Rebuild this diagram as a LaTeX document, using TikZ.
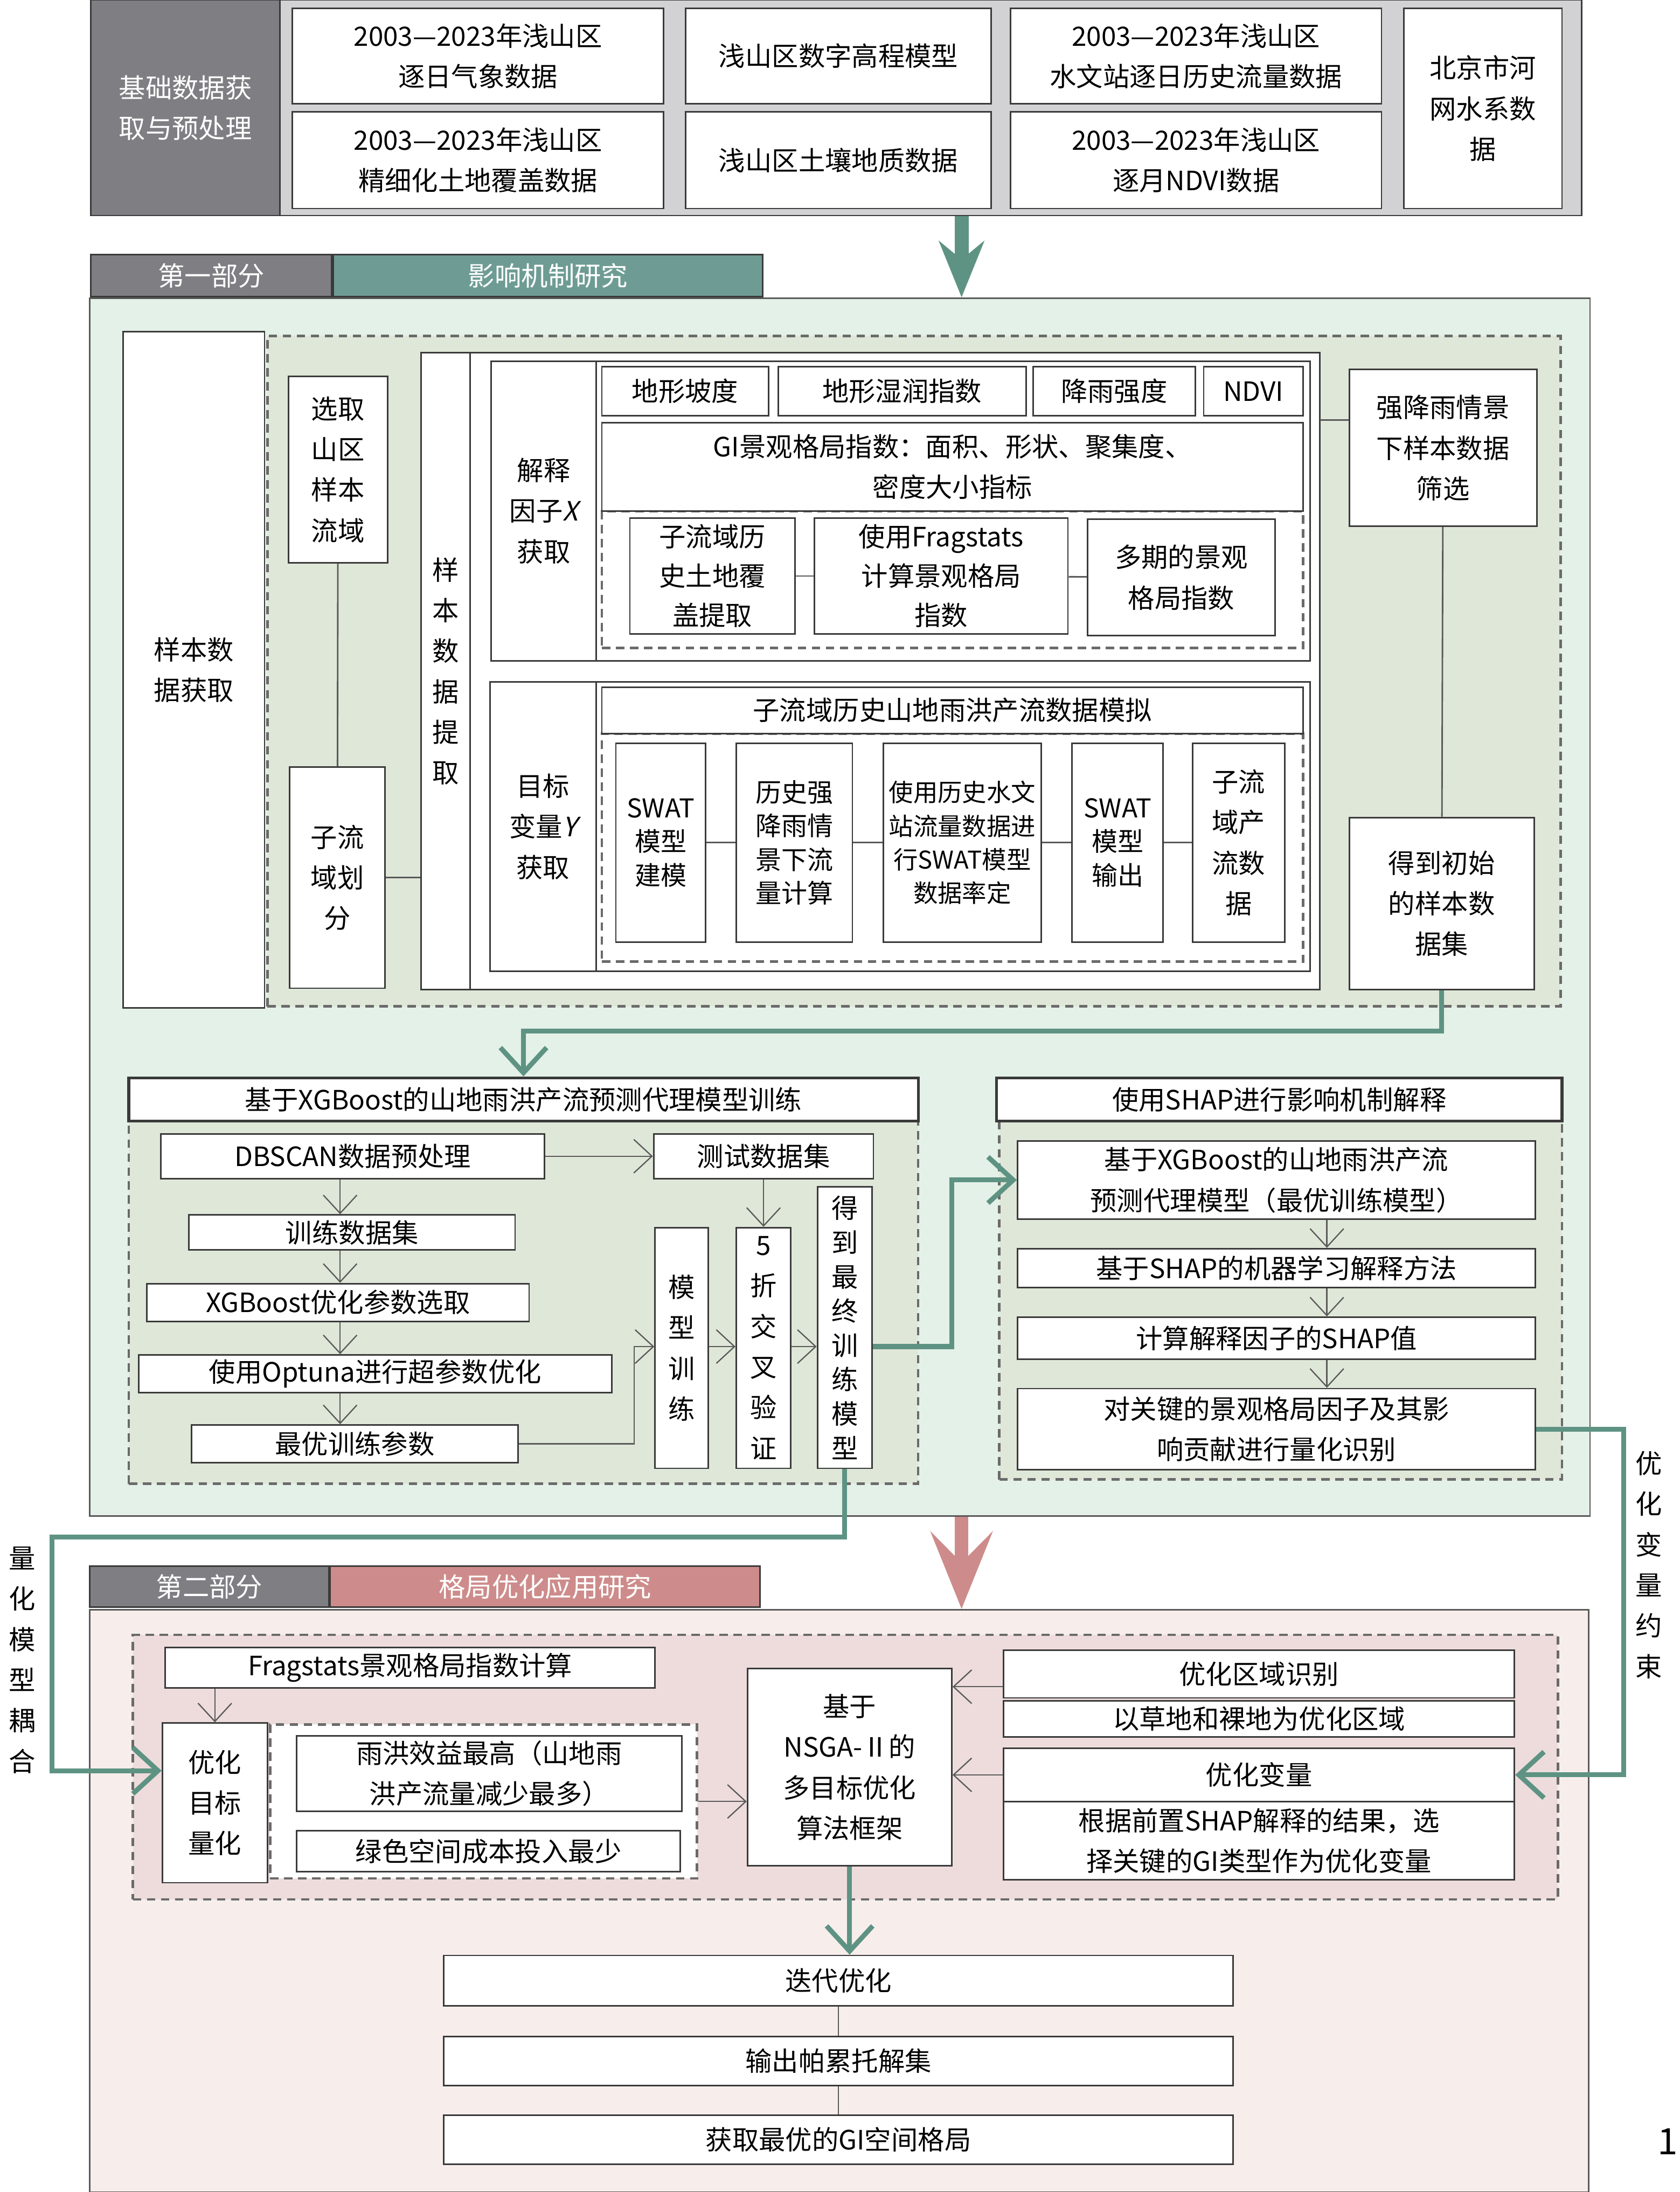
\documentclass[tikz,border=0pt]{standalone}
\usepackage{fontspec}
\setmainfont{Noto Sans CJK SC}
\newfontfamily\slfont[FakeSlant=0.22]{Noto Sans CJK SC}
\usetikzlibrary{arrows.meta}
\definecolor{darkg}{HTML}{7F7F83}
\definecolor{lightg}{HTML}{D2D2D4}
\definecolor{tealc}{HTML}{6E9C94}
\definecolor{greenpanel}{HTML}{E4F1E8}
\definecolor{greendash}{HTML}{DFE7D8}
\definecolor{garrowc}{HTML}{5E9383}
\definecolor{pinkc}{HTML}{CD8C8B}
\definecolor{pinkpanel}{HTML}{F7EEEC}
\definecolor{pinkdash}{HTML}{EEDCDC}
\definecolor{bordc}{HTML}{3A3A3A}
\definecolor{connc}{HTML}{5A5A5A}
\definecolor{dashc}{HTML}{6A6A6A}
\newcommand\myfs{\fontsize{19pt}{29pt}\selectfont}
\newcommand\bx[7][]{%
  \pgfmathsetmacro\bxcx{(#3+#5)/2}%
  \pgfmathsetmacro\bxcy{(#4+#6)/2}%
  \pgfmathsetmacro\bxw{#5-#3}%
  \pgfmathsetmacro\bxh{#6-#4}%
  \node[box,minimum width=\bxw pt,minimum height=\bxh pt,#1] (#2) at (\bxcx,\bxcy) {#7};}
\begin{document}
\begin{tikzpicture}[x=1pt,y=-1pt,
  box/.style={draw=bordc,line width=1.1pt,fill=white,inner sep=0pt,align=center,font=\myfs,text=black},
  titlebox/.style={line width=2pt},
  dashbox/.style={draw=dashc,line width=1.8pt,dash pattern=on 6pt off 4pt},
  tight/.style={font=\fontsize{18.5pt}{24pt}\selectfont},
  conn/.style={draw=connc,line width=1.1pt},
  arr/.style={draw=connc,line width=0.9pt,-{Straight Barb[length=13pt,width=24pt,line width=0.9pt]}},
  garrow/.style={draw=garrowc,line width=3.5pt,-{Straight Barb[length=18pt,width=33pt,line width=3.5pt]}},
  bigarrowA/.style={line width=10pt,-{Stealth[length=40pt,width=32pt,inset=13pt]}},
  bigarrowB/.style={line width=9.6pt,-{Stealth[length=55pt,width=44pt,inset=22pt]}},
  vlab/.style={inner sep=0pt,align=center,font=\myfs,text=black}]
\useasboundingbox (0,0) rectangle (1200,1566);
\fill[white] (0,0) rectangle (1200,1566);

% ---------- top data section
\bx[fill=lightg]{topsec}{65}{0}{1130}{154}{}
\bx[fill=darkg,text=white]{hdr}{65}{0}{200}{154}{基础数据获\\取与预处理}
\bx{d1}{209}{6}{474}{74}{2003—2023年浅山区\\逐日气象数据}
\bx{d2}{490}{6}{708}{74}{浅山区数字高程模型}
\bx{d3}{722}{6}{987}{74}{2003—2023年浅山区\\水文站逐日历史流量数据}
\bx{d4}{209}{80}{474}{149}{2003—2023年浅山区\\精细化土地覆盖数据}
\bx{d5}{490}{80}{708}{149}{浅山区土壤地质数据}
\bx{d6}{722}{80}{987}{149}{2003—2023年浅山区\\逐月NDVI数据}
\bx{d7}{1003}{6}{1116}{149}{北京市河\\网水系数\\据}

% ---------- part one
\bx[fill=greenpanel,draw=connc]{p1}{64}{213}{1136}{1083}{}
\bx[fill=darkg,text=white]{h1a}{65}{182}{237}{212}{第一部分}
\bx[fill=tealc,text=white]{h1b}{238}{182}{545}{212}{影响机制研究}
\coordinate (arrx) at (687,0);
\draw[bigarrowA,draw=garrowc,fill=garrowc] (topsec.south -| arrx) -- (p1.north -| arrx);

\bx[dashbox,fill=greendash]{sd}{191}{240}{1115}{719}{}
\bx{s0}{88}{237}{189}{720}{样本数\\据获取}
\bx{s1}{206}{269}{277}{402}{选取\\山区\\样本\\流域}
\bx{s2}{207}{548}{275}{706}{子流\\域划\\分}
\draw[conn] (s1) -- (s2);
\bx{s4}{301}{252}{943}{707}{}
\bx{s3}{301}{252}{336}{707}{样\\本\\数\\据\\提\\取}
\draw[conn] (s2.east) -- (s2.east -| s3.west);

% X panel
\bx{xr}{351}{258}{936}{472}{}
\bx{xl}{351}{258}{426}{472}{解释\\因子{\slfont X}\\获取}
\bx{x1}{430}{262}{549}{297}{地形坡度}
\bx{x2}{556}{262}{733}{297}{地形湿润指数}
\bx{x3}{738}{262}{854}{297}{降雨强度}
\bx{x4}{860}{262}{931}{297}{NDVI}
\bx[dashbox,fill=white]{xd}{430}{365}{931}{463}{}
\bx{x5}{430}{302}{931}{365}{GI景观格局指数：面积、形状、聚集度、\\密度大小指标}
\bx[font=\fontsize{19pt}{28pt}\selectfont]{x6}{450}{370}{568}{453}{子流域历\\史土地覆\\盖提取}
\bx[font=\fontsize{19pt}{28pt}\selectfont]{x7}{582}{370}{763}{453}{使用Fragstats\\计算景观格局\\指数}
\bx{x8}{777}{371}{911}{454}{多期的景观\\格局指数}
\draw[conn] (x6) -- (x7);
\draw[conn] (x7) -- (x8);

% Y panel
\bx{yr}{350}{487}{936}{694}{}
\bx{yl}{350}{487}{426}{694}{目标\\变量{\slfont Y}\\获取}
\bx[dashbox,fill=white]{yd}{430}{524}{931}{687}{}
\bx{y1}{430}{491}{931}{524}{子流域历史山地雨洪产流数据模拟}
\bx[tight]{y2}{440}{531}{504}{673}{SWAT\\模型\\建模}
\bx[tight]{y3}{526}{531}{609}{673}{历史强\\降雨情\\景下流\\量计算}
\bx[font=\fontsize{17.5pt}{24pt}\selectfont]{y4}{631}{531}{744}{673}{使用历史水文\\站流量数据进\\行SWAT模型\\数据率定}
\bx[tight]{y5}{766}{531}{831}{673}{SWAT\\模型\\输出}
\bx{y6}{852}{531}{918}{673}{子流\\域产\\流数\\据}
\draw[conn] (y2) -- (y3);
\draw[conn] (y3) -- (y4);
\draw[conn] (y4) -- (y5);
\draw[conn] (y5) -- (y6);

% right column
\bx{r1}{964}{264}{1098}{376}{强降雨情景\\下样本数据\\筛选}
\bx{r2}{964}{584}{1096}{707}{得到初始\\的样本数\\据集}
\draw[conn] (r1) -- (r2);
\coordinate (c300) at (943,300);
\draw[conn] (c300) -- (c300 -| r1.west);

% ---------- XGBoost training
\bx[dashbox,fill=greendash]{td}{92}{801}{656}{1060}{}
\bx[titlebox]{t1}{92}{770}{656}{801}{基于XGBoost的山地雨洪产流预测代理模型训练}
\draw[garrow] (r2.south) -- ++(0,29) -| (t1.north);
\bx{m1}{115}{810}{389}{842}{DBSCAN数据预处理}
\bx{m2}{467}{810}{624}{842}{测试数据集}
\bx{m3}{135}{868}{368}{893}{训练数据集}
\bx{m4}{105}{917}{378}{944}{XGBoost优化参数选取}
\bx{m5}{99}{968}{437}{995}{使用Optuna进行超参数优化}
\bx{m6}{137}{1018}{370}{1045}{最优训练参数}
\bx{m7}{468}{877}{506}{1049}{模\\型\\训\\练}
\bx{m8}{526}{877}{565}{1049}{5\\折\\交\\叉\\验\\证}
\bx[font=\fontsize{19pt}{24.5pt}\selectfont]{m9}{584}{848}{623}{1049}{得\\到\\最\\终\\训\\练\\模\\型}
\coordinate (xa) at (243,0);
\draw[arr] (m1.south -| xa) -- (m3.north -| xa);
\draw[arr] (m3.south -| xa) -- (m4.north -| xa);
\draw[arr] (m4.south -| xa) -- (m5.north -| xa);
\draw[arr] (m5.south -| xa) -- (m6.north -| xa);
\draw[arr] (m1.east) -- (m2.west);
\draw[arr] (m2.south) -- (m8.north);
\coordinate (cj) at (453,962);
\draw[arr] (m6.east) -| (cj) -- (cj -| m7.west);
\draw[arr] (cj -| m7.east) -- (cj -| m8.west);
\draw[arr] (cj -| m8.east) -- (cj -| m9.west);

% ---------- SHAP
\bx[dashbox,fill=greendash]{nd}{714}{801}{1116}{1057}{}
\bx[titlebox]{t2}{712}{770}{1116}{801}{使用SHAP进行影响机制解释}
\bx{n1}{727}{815}{1097}{871}{基于XGBoost的山地雨洪产流\\预测代理模型（最优训练模型）}
\bx{n2}{727}{892}{1097}{920}{基于SHAP的机器学习解释方法}
\bx{n3}{727}{941}{1097}{971}{计算解释因子的SHAP值}
\bx{n4}{727}{992}{1097}{1050}{对关键的景观格局因子及其影\\响贡献进行量化识别}
\coordinate (xb) at (948,0);
\draw[arr] (n1.south -| xb) -- (n2.north -| xb);
\draw[arr] (n2.south -| xb) -- (n3.north -| xb);
\draw[arr] (n3.south -| xb) -- (n4.north -| xb);
\coordinate (gx) at (680,0);
\draw[garrow] (cj -| m9.east) -- (cj -| gx) |- (n1.west);

% ---------- part two
\bx[fill=pinkpanel,draw=connc]{p2}{64}{1150}{1135}{1566}{}
\bx[fill=darkg,text=white]{h2a}{64}{1119}{235}{1148}{第二部分}
\bx[fill=pinkc,text=white]{h2b}{236}{1119}{543}{1148}{格局优化应用研究}
\draw[bigarrowB,draw=pinkc,fill=pinkc] (p1.south -| arrx) -- (p2.north -| arrx);

\bx[dashbox,fill=pinkdash]{od}{95}{1168}{1113}{1357}{}
\bx{o0}{118}{1177}{468}{1206}{Fragstats景观格局指数计算}
\bx{o1}{116}{1231}{191}{1345}{优化\\目标\\量化}
\bx[dashbox,fill=white]{o2}{193}{1232}{498}{1342}{}
\bx{o3}{212}{1240}{487}{1294}{雨洪效益最高（山地雨\\洪产流量减少最多）}
\bx{o4}{212}{1308}{486}{1337}{绿色空间成本投入最少}
\draw[arr] (o0.south -| o1.north) -- (o1.north);
\bx{o5}{534}{1192}{680}{1333}{基于\\NSGA-Ⅱ的\\多目标优化\\算法框架}
\draw[arr] (o2.east) -- (o2.east -| o5.west);
\bx{o6}{717}{1179}{1082}{1213}{优化区域识别}
\bx{o7}{717}{1215}{1082}{1241}{以草地和裸地为优化区域}
\bx{v1}{717}{1249}{1082}{1287}{优化变量}
\bx{o8}{717}{1287}{1082}{1343}{根据前置SHAP解释的结果，选\\择关键的GI类型作为优化变量}
\coordinate (cz) at (0,1205);
\draw[arr] (cz -| o6.west) -- (cz -| o5.east);
\draw[arr] (v1.west) -- (v1.west -| o5.east);

\bx{f1}{317}{1397}{881}{1433}{迭代优化}
\bx{f2}{317}{1455}{881}{1490}{输出帕累托解集}
\bx{f3}{317}{1511}{881}{1546}{获取最优的GI空间格局}
\draw[garrow] (o5.south) -- (o5.south |- f1.north);
\draw[conn] (f1) -- (f2);
\draw[conn] (f2) -- (f3);

% ---------- side connectors and labels
\coordinate (gx2) at (1160,0);
\draw[garrow] (n4.east) -- (n4.east -| gx2) |- (v1.east);
\node[vlab] (lab1) at (1178,1118) {优\\化\\变\\量\\约\\束};
\coordinate (q1) at (37,1098);
\coordinate (q2) at (37,1265);
\draw[garrow] (m9.south) |- (q1) -- (q2) -- (q2 -| o1.west);
\node[vlab] (lab2) at (16,1186) {量\\化\\模\\型\\耦\\合};
\node[inner sep=0pt,anchor=west,font=\fontsize{26pt}{26pt}\selectfont] (pg) at (1184,1530) {1};
\end{tikzpicture}
\end{document}
